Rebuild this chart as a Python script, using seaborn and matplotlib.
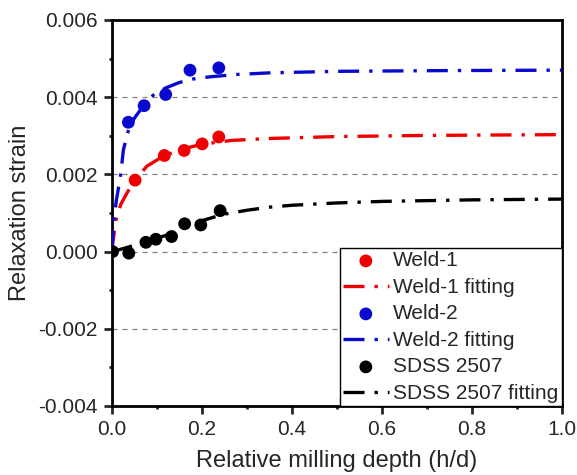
import matplotlib
matplotlib.use("Agg")
import matplotlib.pyplot as plt
import seaborn as sns
import pandas as pd
from matplotlib.ticker import MultipleLocator

# measured points
w1_x = [0.052, 0.117, 0.161, 0.201, 0.238]
w1_y = [0.00185, 0.00249, 0.00262, 0.00279, 0.00297]
w2_x = [0.037, 0.072, 0.120, 0.174, 0.238]
w2_y = [0.00335, 0.00378, 0.00407, 0.00470, 0.00476]
sd_x = [0.002, 0.038, 0.076, 0.098, 0.133, 0.162, 0.198, 0.241]
sd_y = [0.0, -0.00004, 0.00024, 0.00032, 0.00039, 0.00072, 0.00069, 0.00106]

# fitting curves
w1_fit_x = [0, 0.009, 0.02, 0.034, 0.052, 0.078, 0.114, 0.158, 0.2, 0.266, 0.35, 0.5, 0.7, 1.0]
w1_fit_y = [0, 0.0008, 0.00122, 0.00152, 0.00186, 0.00221, 0.00247, 0.00266, 0.00278,
            0.00288, 0.00293, 0.00298, 0.00301, 0.00303]
w2_fit_x = [0, 0.005, 0.01, 0.02, 0.026, 0.038, 0.05, 0.07, 0.092, 0.12, 0.15, 0.18,
            0.22, 0.28, 0.35, 0.5, 0.75, 1.0]
w2_fit_y = [0, 0.0008, 0.0013, 0.002, 0.00264, 0.00318, 0.00345, 0.00377, 0.00405,
            0.00424, 0.00438, 0.00447, 0.00453, 0.00459, 0.00463, 0.00467, 0.00469, 0.0047]
sd_fit_x = [0, 0.02, 0.05, 0.08, 0.1, 0.13, 0.16, 0.2, 0.25, 0.3, 0.35, 0.4, 0.5, 0.6, 0.8, 1.0]
sd_fit_y = [0, 0.00006, 0.00016, 0.00027, 0.00034, 0.00046, 0.0006, 0.0008, 0.00097,
            0.00107, 0.00115, 0.0012, 0.00126, 0.0013, 0.00134, 0.00136]

red = "#F00000"
blue = "#0A0ACF"
black = "#000000"

sns.set_style("ticks")
plt.rcParams["font.family"] = ["Liberation Sans", "DejaVu Sans"]
plt.rcParams["axes.unicode_minus"] = False

fig = plt.figure(figsize=(5.77, 4.75), dpi=100)
ax = fig.add_axes([0.1936, 0.1453, 0.7799, 0.8126])

dash = (0, (6.3, 3, 1, 3))
series = [
    ("Weld-1", w1_x, w1_y, w1_fit_x, w1_fit_y, red),
    ("Weld-2", w2_x, w2_y, w2_fit_x, w2_fit_y, blue),
    ("SDSS 2507", sd_x, sd_y, sd_fit_x, sd_fit_y, black),
]
for name, px, py, fx, fy, c in series:
    fit = pd.DataFrame({"x": fx, "y": fy})
    sns.lineplot(data=fit, x="x", y="y", ax=ax, color=c, lw=2.4, linestyle=dash,
                 sort=False, estimator=None, label=name + " fitting", zorder=3)
    pts = pd.DataFrame({"x": px, "y": py})
    sns.scatterplot(data=pts, x="x", y="y", ax=ax, color=c, s=85, edgecolor="none",
                    label=name, zorder=4)

ax.set_xlim(0, 1.0)
ax.set_ylim(-0.004, 0.006)
ax.xaxis.set_major_locator(MultipleLocator(0.2))
ax.xaxis.set_minor_locator(MultipleLocator(0.1))
ax.yaxis.set_major_locator(MultipleLocator(0.002))
ax.yaxis.set_minor_locator(MultipleLocator(0.001))
ax.set_xticklabels([f"{v:.1f}" for v in ax.get_xticks()])
ax.set_yticklabels([f"{v:.3f}" for v in ax.get_yticks()])
ax.tick_params(which="major", length=6, width=2, labelsize=15, direction="out", pad=4)
ax.tick_params(which="minor", length=2.5, width=2, direction="out")
ax.yaxis.grid(True, which="major", color="#808080", ls=(0, (4, 4)), lw=0.9)
for s in ax.spines.values():
    s.set_linewidth(2)
    s.set_color("black")

ax.set_xlabel("Relative milling depth (h/d)", fontsize=17, labelpad=8)
ax.set_ylabel("Relaxation strain", fontsize=17, labelpad=5)

# legend order: points then fitting line for each sample
h, l = ax.get_legend_handles_labels()
order = ["Weld-1", "Weld-1 fitting", "Weld-2", "Weld-2 fitting", "SDSS 2507", "SDSS 2507 fitting"]
hd = dict(zip(l, h))
leg = ax.legend([hd[k] for k in order], order, loc="lower right", fontsize=15,
                frameon=True, fancybox=False, framealpha=1, edgecolor="black",
                borderaxespad=0, borderpad=0.15, labelspacing=0.36, handlelength=2.2,
                handletextpad=0.22)
leg.get_frame().set_linewidth(1.0)

fig.savefig("out.png", dpi=100)
